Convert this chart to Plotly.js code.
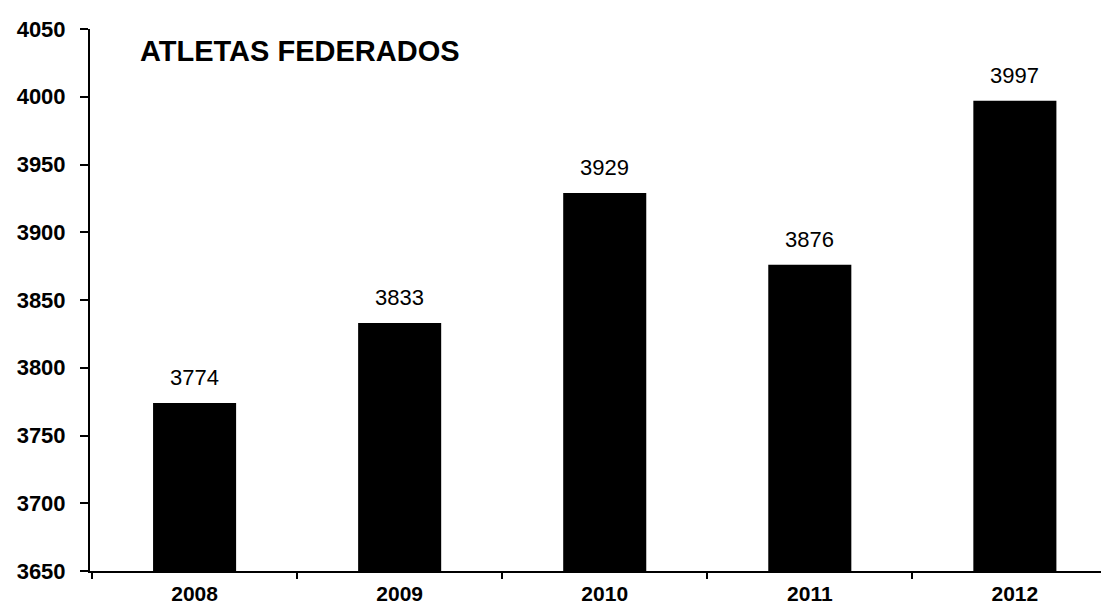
<!DOCTYPE html>
<html>
<head>
<meta charset="utf-8">
<script src="https://cdn.plot.ly/plotly-3.0.1.min.js"></script>
<style>html,body{margin:0;padding:0;background:#fff;}#chart{width:1101px;height:609px;}</style>
</head>
<body>
<div id="chart"></div>
<script>
const years = ['2008', '2009', '2010', '2011', '2012'];
const athletes = [3774, 3833, 3929, 3876, 3997];
const yTicks = [3650, 3700, 3750, 3800, 3850, 3900, 3950, 4000, 4050];
const chartTitle = 'ATLETAS FEDERADOS';

const font = 'Liberation Sans, Arial, sans-serif';

const trace = {
  type: 'bar',
  x: years,
  y: athletes,
  marker: {color: '#000000', line: {width: 0}},
  width: 0.405,
  hoverinfo: 'x+y'
};

const annotations = years.map((yr, i) => ({
  x: i, y: athletes[i], xref: 'x', yref: 'y',
  text: String(athletes[i]), showarrow: false,
  yanchor: 'bottom', yshift: 11,
  font: {family: font, size: 22, color: '#000'}
}));

const layout = {
  width: 1101, height: 609,
  margin: {l: 90, r: 0, t: 29, b: 38, pad: 0},
  paper_bgcolor: '#fff', plot_bgcolor: '#fff',
  showlegend: false,
  title: {
    text: '<b>' + chartTitle + '</b>',
    x: 140 / 1101, xanchor: 'left', xref: 'container',
    y: 1 - 51 / 609, yanchor: 'middle', yref: 'container',
    font: {family: font, size: 29, color: '#000'}
  },
  xaxis: {
    type: 'category',
    range: [-0.51, 4.42],
    showline: true, linecolor: '#000', linewidth: 2,
    ticks: 'outside', tickson: 'boundaries', ticklen: 6, tickwidth: 2, tickcolor: '#000',
    showgrid: false, zeroline: false,
    tickfont: {family: font, size: 21, color: '#000', weight: 'bold'},
    ticklabelstandoff: 3
  },
  yaxis: {
    range: [3650, 4050],
    tickvals: yTicks,
    ticktext: yTicks.map(String),
    showline: true, linecolor: '#000', linewidth: 2,
    ticks: 'outside', ticklen: 8, tickwidth: 2, tickcolor: '#000',
    showgrid: false, zeroline: false,
    tickfont: {family: font, size: 22, color: '#000', weight: 'bold'},
    ticklabelstandoff: 10
  },
  annotations: annotations
};

Plotly.newPlot('chart', [trace], layout, {displayModeBar: false, staticPlot: true});
</script>
</body>
</html>
